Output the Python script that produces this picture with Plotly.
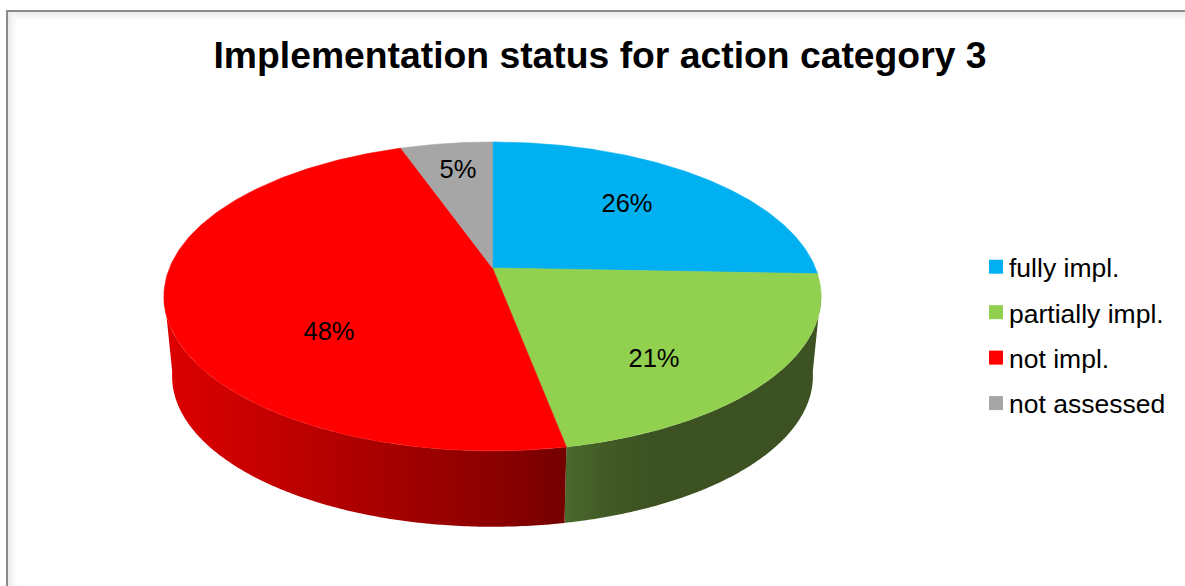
import numpy as np
import plotly.graph_objects as go

TITLE = "Implementation status for action category 3"
categories = ["fully impl.", "partially impl.", "not impl.", "not assessed"]
values = [25.6, 21.4, 47.6, 5.4]
colors = ["#00B0F0", "#92D050", "#FF0000", "#A6A6A6"]

# Projection of the pie disc on to the canvas
CX, CY = 492.5, 268.0
R, S, P = 323.0, 149.2, 0.184
BOTTOM_SCALE, BOTTOM_CY = 0.975, 348.5
W, H = 1185, 586
FONT = "Liberation Sans"


def project(angle_deg, radius=1.0, scale=1.0, cy=CY):
    a = np.radians(angle_deg)
    u, v = radius * np.sin(a), radius * np.cos(a)
    w = 1 + P * v
    return CX + scale * R * u / w, cy - scale * S * v / w


cum = np.cumsum([0] + values) / sum(values) * 360
fig = go.Figure()


def side(a0, a1, colorscale):
    ang = np.linspace(a0, a1, 160)
    xt, yt = project(ang)
    xb, yb = project(ang, scale=BOTTOM_SCALE, cy=BOTTOM_CY)
    fig.add_trace(go.Scatter(
        x=np.r_[xt, xb[::-1]], y=np.r_[yt, yb[::-1]], mode="none", fill="toself",
        fillgradient=dict(type="horizontal", colorscale=colorscale),
        showlegend=False, hoverinfo="skip"))


# Visible rim: green part then red part, shaded left to right
side(99, cum[2], [[0, "#4a6a2c"], [0.16, "#425a26"], [0.34, "#3c5222"], [1, "#3c5222"]])
side(cum[2], 261, [[0, "#de0000"], [0.42, "#b40000"], [0.84, "#8a0000"], [1, "#740000"]])

# Top face
for i, (name, col) in enumerate(zip(categories, colors)):
    ang = np.linspace(cum[i], cum[i + 1], 200)
    x, y = project(ang)
    fig.add_trace(go.Scatter(
        x=np.r_[CX, x, CX], y=np.r_[CY, y, CY], mode="lines", fill="toself",
        fillcolor=col, line=dict(color=col, width=0.6),
        showlegend=False, hoverinfo="skip"))

# Percentage labels
label_x = [627, 654, 329, 458]
label_y = [206, 361, 334, 172]
fig.add_trace(go.Scatter(
    x=label_x, y=label_y, mode="text", text=[f"{round(v)}%" for v in values],
    textposition="middle center", textfont=dict(family=FONT, size=25.5, color="#000000"),
    showlegend=False, hoverinfo="skip"))

# Legend entries
for name, col in zip(categories, colors):
    fig.add_trace(go.Scatter(
        x=[None], y=[None], mode="markers", name=name, legendgroup=name,
        marker=dict(symbol="square", size=14, color=col)))

# Frame with soft inner shadow
shapes = []
for k in range(10, 0, -1):
    g = 255 - int(26 * ((11 - k) / 10) ** 1.4)
    shade = f"rgb({g},{g},{g})"
    shapes.append(dict(type="rect", xref="x", yref="y", x0=7 + k, y0=11 + k, x1=W + 20, y1=H + 20,
                       line=dict(color=shade, width=1.2), layer="below"))
shapes.append(dict(type="rect", xref="x", yref="y", x0=7, y0=11, x1=W + 20, y1=H + 20,
                   line=dict(color="#8a8a8a", width=2), layer="below"))

fig.update_layout(
    width=W, height=H, margin=dict(l=0, r=0, t=0, b=0),
    paper_bgcolor="#ffffff", plot_bgcolor="rgba(0,0,0,0)",
    xaxis=dict(range=[0, W], visible=False, fixedrange=True),
    yaxis=dict(range=[H, 0], visible=False, fixedrange=True),
    shapes=shapes,
    title=dict(text=TITLE, x=600 / W, xanchor="center", y=1 - 55 / H, yanchor="middle",
               font=dict(family=FONT, size=37.3, color="#000000", weight=700)),
    legend=dict(x=969 / W, xanchor="left", y=1 - 243 / H, yanchor="top", bgcolor="rgba(0,0,0,0)",
                font=dict(family=FONT, size=26.5, color="#000000"), tracegroupgap=8,
                itemclick=False, itemdoubleclick=False),
    showlegend=True,
)

fig.write_html(
    "out.html", config={"displayModeBar": False},
    post_script=(
        "document.body.style.margin='0';document.body.style.overflow='hidden';"
        "setTimeout(function(){document.querySelectorAll('.legendsymbols')"
        ".forEach(function(n){n.setAttribute('transform','translate(7,0)');});},30);"
    ),
)
